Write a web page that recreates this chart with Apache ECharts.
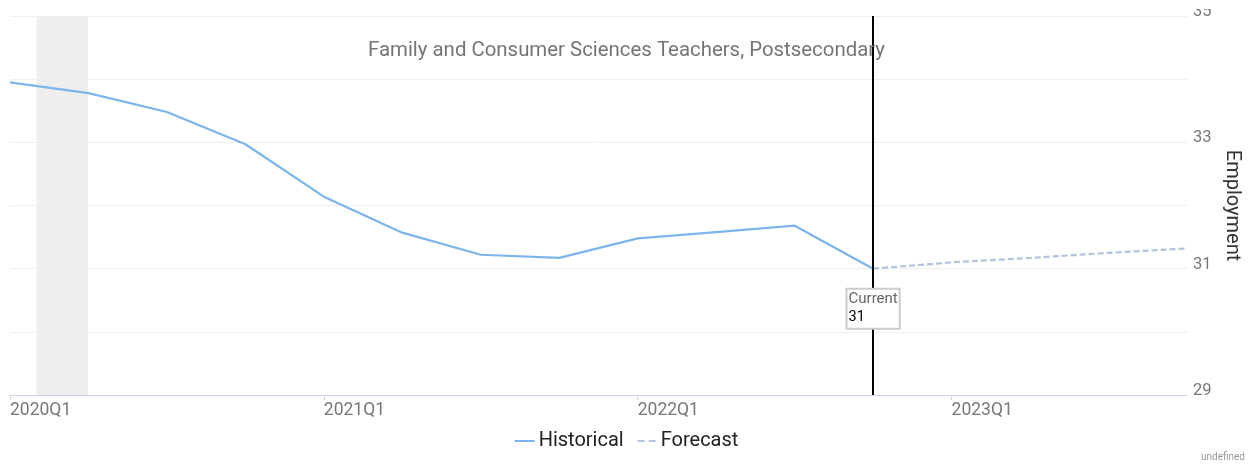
<!DOCTYPE html>
<html>
<head>
<meta charset="utf-8">
<script src="https://cdn.jsdelivr.net/npm/echarts@6/dist/echarts.min.js"></script>
<style>
html,body{margin:0;padding:0;background:#fff;}
#chart{width:1253px;height:465px;}
</style>
</head>
<body>
<div id="chart"></div>
<script>
const chartTitle = 'Family and Consumer Sciences Teachers, Postsecondary';
const histQuarters = ['2020Q1','2020Q2','2020Q3','2020Q4','2021Q1','2021Q2','2021Q3','2021Q4','2022Q1','2022Q2','2022Q3','2022Q4'];
const histValues = [33.95, 33.78, 33.48, 32.97, 32.14, 31.57, 31.22, 31.17, 31.48, 31.58, 31.68, 31.0];
const fcQuarters = ['2022Q4','2023Q1','2023Q2','2023Q3','2023Q4'];
const fcValues = [31.0, 31.1, 31.17, 31.25, 31.32];
const currentQuarter = '2022Q4';
const currentValue = 31;
const recession = ['2020-02-01', '2020-04-01'];
const yTicks = [29, 31, 33, 35];

function qToNum(q){ const y = +q.slice(0,4), k = +q.slice(5); return y + (k-1)/4; }
function dateToNum(d){
  const dt = new Date(d + 'T00:00:00Z'); const y = dt.getUTCFullYear();
  const start = Date.UTC(y,0,1), end = Date.UTC(y+1,0,1);
  return y + (dt - start)/(end - start);
}
const hist = histQuarters.map((q,i)=>[qToNum(q), histValues[i]]);
const fc = fcQuarters.map((q,i)=>[qToNum(q), fcValues[i]]);
const xMin = qToNum(histQuarters[0]);
const xMax = qToNum(fcQuarters[fcQuarters.length-1]);
const font = 'Roboto, "Noto Sans", sans-serif';
const histColor = '#7cb5ec';
const fcColor = '#b0c4de';

const chart = echarts.init(document.getElementById('chart'), null, {renderer:'canvas'});
chart.setOption({
  animation: false,
  backgroundColor: '#fff',
  title: {
    text: chartTitle, left: 'center', top: 36,
    textStyle: {fontFamily: font, fontSize: 20.4, fontWeight: 'normal', color: '#757575'}
  },
  grid: {left: 10, right: 66, top: 16, bottom: 70, containLabel: false},
  legend: {
    bottom: 9, left: 'center', itemWidth: 20, itemHeight: 2, itemGap: 14,
    textStyle: {fontFamily: font, fontSize: 20, color: '#222', padding: [0,0,0,-1]},
    data: [
      {name: 'Historical', icon: 'path://M0,0h20v2h-20z', itemStyle: {color: histColor}},
      {name: 'Forecast', icon: 'path://M0,0h7v2h-7zM11,0h7v2h-7z', itemStyle: {color: fcColor}}
    ]
  },
  xAxis: {
    type: 'value', min: xMin, max: xMax, interval: 1,
    axisLine: {show: true, lineStyle: {color: '#ccd6eb', width: 1}},
    axisTick: {show: true, length: 5, lineStyle: {color: '#ccd6eb'},
      customValues: [2020, 2021, 2022, 2023]},
    splitLine: {show: false},
    axisLabel: {
      fontFamily: font, fontSize: 17.5, color: '#777', align: 'left', margin: 7,
      showMaxLabel: false,
      formatter: v => Number.isInteger(v) ? v + 'Q1' : ''
    }
  },
  yAxis: {
    type: 'value', position: 'right', min: 29, max: 35, interval: 1,
    name: 'Employment', nameLocation: 'middle', nameRotate: -90, nameGap: 22,
    nameTextStyle: {fontFamily: font, fontSize: 20, color: '#333'},
    axisLine: {show: false}, axisTick: {show: false},
    splitLine: {lineStyle: {color: '#eeeeee', width: 1}},
    axisLabel: {
      fontFamily: font, fontSize: 16.5, color: '#777', margin: 6,
      verticalAlign: 'bottom', lineHeight: 16.5, padding: [0,0,-4,0],
      formatter: v => yTicks.includes(v) ? String(v) : ''
    }
  },
  series: [
    {
      name: 'Historical', type: 'line', data: hist, symbol: 'none', showSymbol: false,
      lineStyle: {color: histColor, width: 2.2}, itemStyle: {color: histColor}, z: 3,
      markArea: {
        silent: true, itemStyle: {color: '#eeeeee'},
        data: [[{xAxis: dateToNum(recession[0])}, {xAxis: dateToNum(recession[1])}]]
      },
      markLine: {
        silent: true, symbol: 'none', label: {show: false},
        lineStyle: {color: '#000', width: 2, type: 'solid'},
        data: [{xAxis: qToNum(currentQuarter)}]
      }
    },
    {
      name: 'Forecast', type: 'line', data: fc, symbol: 'none', showSymbol: false,
      lineStyle: {color: fcColor, width: 2.2, type: [6, 3]}, itemStyle: {color: fcColor}, z: 3,
      markPoint: {
        silent: true, symbol: 'rect', symbolSize: 0, z: 10,
        label: {
          show: true, offset: [0, 40],
          backgroundColor: '#fff', borderColor: '#cccccc', borderWidth: 2,
          padding: [1, 1, 1, 1], align: 'center', verticalAlign: 'middle',
          formatter: () => '{a|Current}\n{b|' + currentValue + '}',
          rich: {
            a: {fontFamily: font, fontSize: 15, color: '#666', lineHeight: 18, align: 'left'},
            b: {fontFamily: font, fontSize: 14.5, color: '#000', lineHeight: 18, align: 'left'}
          }
        },
        data: [{coord: [qToNum(currentQuarter), currentValue]}]
      }
    }
  ],
  graphic: [
    {type: 'rect', right: 0, top: 0, z: 100, shape: {width: 64, height: 9}, style: {fill: '#fff'}, silent: true},
    {type: 'text', right: 8, bottom: 3, style: {text: 'undefined', fontFamily: font, fontSize: 10, fill: '#999'}}
  ]
});
</script>
</body>
</html>
